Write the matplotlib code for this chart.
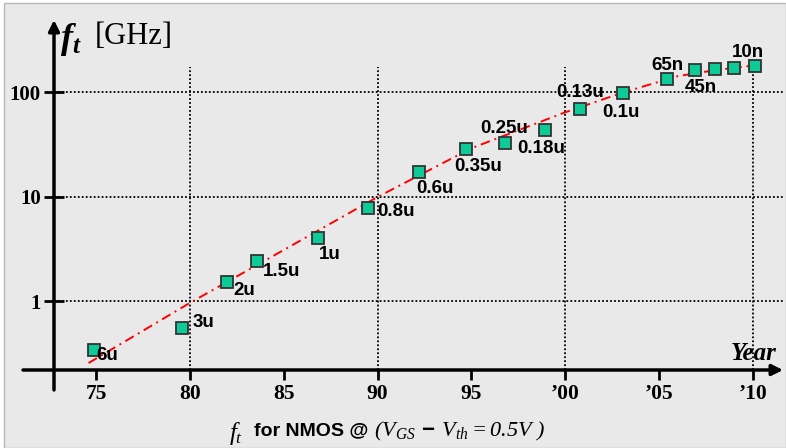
import matplotlib
matplotlib.use('Agg')
import matplotlib.pyplot as plt
from matplotlib.patches import Rectangle

# ---------------- data ----------------
years = [74.9, 79.6, 82.0, 83.6, 86.8, 89.5, 92.2, 94.7, 96.8, 98.9,
         100.8, 103.1, 105.4, 106.9, 108.0, 109.0, 110.1]
ft_ghz = [0.34, 0.55, 1.52, 2.4, 4.0, 7.8, 17.1, 28.5, 32.5, 43,
          69, 98, 133, 162, 166, 169, 177]
nodes = ['6u', '3u', '2u', '1.5u', '1u', '0.8u', '0.6u', '0.35u', '0.25u', '0.18u',
         '0.13u', '0.1u', '65n', '45n', '', '', '10n']
trend_years = [74.6, 80, 85, 90, 95, 100, 103, 106, 108, 110.2]
trend_ft = [0.255, 0.96, 3.08, 9.9, 29, 64, 98, 142, 162, 181]
xtick_vals = [75, 80, 85, 90, 95, 100, 105, 110]
xtick_labels = ['75', '80', '85', '90', '95', '\u201900', '\u201905', '\u201910']
ytick_vals = [1, 10, 100]
ytick_labels = ['1', '10', '100']
vgrid_years = [80, 90, 100, 110]

# label offsets in pixels (layout only)
label_offsets = [(2, -6), (10, 6), (6, -8), (5, -10), (1, -16), (9, -4), (-3, -16),
                 (-12, -17), (-25, 15), (-27, -18), (-24, 16), (-21, -20), (-15, 14),
                 (-10, -17), (0, 0), (0, 0), (-23, 14)]

# ---------------- style ----------------
plt.rcParams['mathtext.fontset'] = 'custom'
plt.rcParams['mathtext.rm'] = 'Liberation Serif:italic'
plt.rcParams['mathtext.it'] = 'Liberation Serif:italic'
plt.rcParams['mathtext.bf'] = 'Liberation Sans:bold'
plt.rcParams['mathtext.sf'] = 'Liberation Sans:bold'
plt.rcParams['mathtext.bfit'] = 'Liberation Serif:italic:bold'

W, H = 786, 448
fig = plt.figure(figsize=(W / 100, H / 100), dpi=100)
fig.patch.set_facecolor('white')
bg = Rectangle((4 / W, 0), 1 - 4 / W, 1 - 3 / H, transform=fig.transFigure,
               facecolor='#e9e9e9', edgecolor='#b8b8b8', lw=1.0, zorder=-10)
fig.patches.append(bg)

# axes: y-axis at px 54, top px 20, x-axis at px 370, right px 783
ax = fig.add_axes([54 / W, (H - 370) / H, (783 - 54) / W, (370 - 20) / H])
ax.set_zorder(1)
ax.set_facecolor('none')
ax.set_yscale('log')
xmin, xmax = 72.76, 111.6
ymin, ymax = 0.2188, 489
ax.set_xlim(xmin, xmax)
ax.set_ylim(ymin, ymax)
for s in ax.spines.values():
    s.set_visible(False)

# grid
ax.hlines(ytick_vals, xmin, xmax, colors='black', linestyles=(0, (1, 1.2)), lw=1.3, zorder=1)
ax.vlines(vgrid_years, ymin, 173, colors='black', linestyles=(0, (1, 1.2)), lw=1.3, zorder=1)

# axes with arrows
ax.annotate('', xy=(1.0, 0), xytext=(-0.0425, 0), xycoords='axes fraction',
            arrowprops=dict(arrowstyle='-|>', lw=2.5, color='black', mutation_scale=16,
                            shrinkA=0, shrinkB=0), annotation_clip=False, zorder=3)
ax.annotate('', xy=(0, 1.0), xytext=(0, -0.057), xycoords='axes fraction',
            arrowprops=dict(arrowstyle='-|>', lw=2.5, color='black', mutation_scale=16,
                            shrinkA=0, shrinkB=0), annotation_clip=False, zorder=3)

# ticks
ax.set_xticks(xtick_vals)
ax.set_xticklabels(xtick_labels, fontfamily='Liberation Serif', fontweight='bold', fontsize=15.5)
ax.set_yticks(ytick_vals)
ax.set_yticklabels(ytick_labels, fontfamily='Liberation Serif', fontweight='bold', fontsize=15)
ax.yaxis.set_minor_locator(matplotlib.ticker.NullLocator())
ax.tick_params(axis='x', direction='out', length=7, width=2, pad=3)
ax.tick_params(axis='y', direction='inout', length=14, width=2, pad=2.5)

# trend line
ax.plot(trend_years, trend_ft, color='red', lw=1.4, linestyle=(0, (5, 2.5, 1, 2.5)), zorder=2)

# markers
ax.plot(years, ft_ghz, linestyle='none', marker='s', markersize=9,
        markerfacecolor='#0ccb97', markeredgecolor='#333333', markeredgewidth=1.3, zorder=4)

# node labels
for x, y, lab, (dx, dy) in zip(years, ft_ghz, nodes, label_offsets):
    if lab:
        ax.annotate(lab, (x, y), xytext=(dx * 0.72, dy * 0.72), textcoords='offset points',
                    ha='left', va='center', fontfamily='Liberation Sans', fontweight='bold',
                    fontsize=13.5, color='black', zorder=5)

# title-ish labels
fig.text(60 / W, 1 - 40 / H, r'$\mathbfit{f_t}$', fontsize=26, ha='left', va='center')
fig.text(95 / W, 1 - 37 / H, '[GHz]', fontfamily='Liberation Serif',
         fontsize=22, ha='left', va='center')
fig.text(777 / W, 1 - 353 / H, 'Year', fontfamily='Liberation Serif', fontweight='bold',
         fontstyle='italic', fontsize=18, ha='right', va='center')

# caption, pieces chained left to right
t1 = fig.text(229 / W, 1 - 433 / H, r'$\mathit{f_t}$', fontsize=18, ha='left', va='center')
t2 = fig.text(254 / W, 1 - 431 / H, 'for NMOS @', fontfamily='Liberation Sans',
              fontweight='bold', fontsize=14, ha='left', va='center')
fig.canvas.draw()
ax.annotate(r'$\mathit{(V_{GS}}$ $\mathsf{-}$ $\mathit{V_{th} = 0.5V\ )}$',
            xy=(1, 0.5), xycoords=t2, xytext=(4, 0), textcoords='offset points',
            fontsize=16, ha='left', va='center', annotation_clip=False)

fig.savefig('out.png', dpi=100, facecolor=fig.get_facecolor())
